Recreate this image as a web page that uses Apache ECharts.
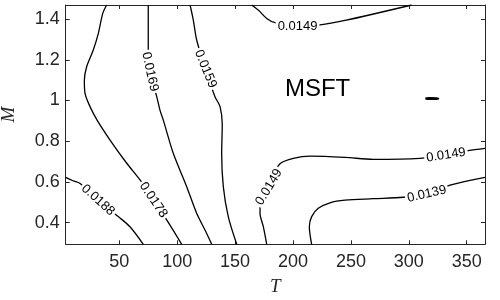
<!DOCTYPE html>
<html><head><meta charset="utf-8">
<script src="https://cdn.jsdelivr.net/npm/echarts@6/dist/echarts.min.js"></script>
<style>html,body{margin:0;padding:0;background:#fff}#c{width:500px;height:300px}</style>
</head><body><div id="c"></div>
<script>
// axis ranges and ticks
const xRange = [3.7, 365.8];
const yRange = [0.294, 1.469];
const xTicks = [50, 100, 150, 200, 250, 300, 350];
const yTicks = [0.4, 0.6, 0.8, 1, 1.2, 1.4];

// contour lines [T, M]
const c0188 = [[3.7,0.623],[10,0.606],[16.1,0.593],[31.6,0.511],[49.1,0.430],[59.2,0.380],[70.7,0.294]];
const c0178 = [[39.1,1.469],[35.7,1.428],[31.9,1.330],[27.5,1.248],[21.8,1.166],[19.8,1.100],[20.4,1.035],[24.7,0.970],[30.8,0.904],[42.0,0.806],[56.4,0.692],[67.9,0.610],[79.4,0.511],[90.9,0.414],[103.9,0.294]];
const c0169 = [[75.0,1.469],[75.0,1.264],[76.5,1.141],[82.3,1.019],[85.1,0.953],[88.0,0.904],[96.6,0.741],[108.2,0.577],[116.8,0.446],[124.0,0.364],[129.8,0.294]];
const c0159 = [[111.1,1.469],[113.9,1.395],[116.8,1.297],[124.4,1.155],[132.6,1.019],[137.0,0.970],[138.9,0.883],[138.4,0.741],[139.8,0.577],[144.1,0.430],[151.4,0.294]];
const c0149a = [[177.3,0.294],[174.4,0.380],[171.5,0.446],[171.8,0.490],[175.5,0.560],[181.5,0.625],[188.8,0.690],[200.3,0.716],[214.7,0.727],[244.9,0.721],[269.3,0.711],[309.7,0.716],[332.1,0.732],[351.4,0.754],[365.8,0.765]];
const c0149b = [[164.3,1.469],[170.0,1.444],[177.3,1.403],[184.5,1.382],[203.9,1.366],[223.3,1.371],[244.9,1.393],[302.5,1.469]];
const c0139 = [[216.1,0.294],[214.1,0.380],[216.1,0.430],[221.8,0.471],[231.9,0.498],[244.9,0.511],[269.3,0.518],[295.3,0.525],[315.5,0.541],[335.6,0.585],[365.8,0.623]];
const cBlob = [[314.3,1.0095],[317,1.012],[320,1.0125],[324,1.011],[325.5,1.0095],[322,1.007],[318,1.007],[314.3,1.0095]];

// contour labels
const labelText = ['0.0188','0.0178','0.0169','0.0159','0.0149','0.0149','0.0149','0.0139'];
const labelT = [31.6, 79.4, 76.5, 124.4, 179.3, 203.9, 332.1, 315.5];
const labelM = [0.511, 0.511, 1.141, 1.155, 0.575, 1.366, 0.732, 0.541];
const labelAngle = [-42, -56, -78, -68, 59, 0, 9, 13];

// annotation
const noteText = ['MSFT'];
const noteT = [221.2];
const noteM = [1.055];

const FONT = 'Liberation Sans, Arial, Helvetica, sans-serif';
const AX = '#262626';
const chart = echarts.init(document.getElementById('c'), null, {renderer: 'canvas'});

function lineSeries(data, smooth) {
  return {type: 'line', data: data, showSymbol: false, symbol: 'none', smooth: smooth,
    lineStyle: {color: '#000', width: 1.3}, xAxisIndex: 0, yAxisIndex: 0, z: 2, animation: false, silent: true};
}
const tickStyle = {inside: true, length: 4, lineStyle: {color: AX, width: 1}};

chart.setOption({
  animation: false,
  grid: {left: 65.7, right: 15, top: 5, bottom: 55.7, containLabel: false, outerBoundsMode: 'none'},
  xAxis: [
    {type: 'value', min: xRange[0], max: xRange[1], position: 'bottom',
     axisLine: {show: true, onZero: false, lineStyle: {color: AX, width: 1}},
     axisTick: Object.assign({customValues: xTicks}, tickStyle),
     axisLabel: {customValues: xTicks, fontSize: 18, color: AX, fontFamily: FONT, margin: 9},
     splitLine: {show: false},
     name: 'T', nameLocation: 'middle', nameGap: 33,
     nameTextStyle: {fontFamily: 'Liberation Serif, Times New Roman, serif', fontStyle: 'italic', fontSize: 19, color: AX}},
    {type: 'value', min: xRange[0], max: xRange[1], position: 'top',
     axisLine: {show: true, onZero: false, lineStyle: {color: AX, width: 1}},
     axisTick: Object.assign({customValues: xTicks}, tickStyle),
     axisLabel: {show: false}, splitLine: {show: false}}
  ],
  yAxis: [
    {type: 'value', min: yRange[0], max: yRange[1], position: 'left',
     axisLine: {show: true, onZero: false, lineStyle: {color: AX, width: 1}},
     axisTick: Object.assign({customValues: yTicks}, tickStyle),
     axisLabel: {customValues: yTicks, fontSize: 18, color: AX, fontFamily: FONT, margin: 6},
     splitLine: {show: false},
     name: 'M', nameLocation: 'middle', nameGap: 47, nameRotate: 90,
     nameTextStyle: {fontFamily: 'Liberation Serif, Times New Roman, serif', fontStyle: 'italic', fontSize: 19, color: AX, padding: [0, 0, 0, 20]}},
    {type: 'value', min: yRange[0], max: yRange[1], position: 'right',
     axisLine: {show: true, onZero: false, lineStyle: {color: AX, width: 1}},
     axisTick: Object.assign({customValues: yTicks}, tickStyle),
     axisLabel: {show: false}, splitLine: {show: false}}
  ],
  series: [
    lineSeries(c0188, 0.3),
    lineSeries(c0178, 0.3),
    lineSeries(c0169, 0.3),
    lineSeries(c0159, 0.3),
    lineSeries(c0149a, 0.3),
    lineSeries(c0149b, 0.3),
    lineSeries(c0139, 0.3),
    Object.assign(lineSeries(cBlob, 0.5), {lineStyle: {color: '#000', width: 2}}),
    {type: 'scatter', z: 5, silent: true, animation: false,
     symbol: 'circle', symbolSize: 1, itemStyle: {color: 'rgba(0,0,0,0)'},
     data: labelText.map((t, i) => ({name: t, value: [labelT[i], labelM[i]], label: {rotate: labelAngle[i]}})),
     label: {show: true, position: 'inside', formatter: '{b}', fontSize: 13, color: '#000', opacity: 1,
             textBorderWidth: 0, textBorderColor: 'transparent',
             fontFamily: FONT, backgroundColor: '#fff', padding: [0, 2]}},
    {type: 'scatter', z: 5, silent: true, animation: false,
     symbol: 'circle', symbolSize: 1, itemStyle: {color: 'rgba(0,0,0,0)'},
     data: noteText.map((t, i) => ({name: t, value: [noteT[i], noteM[i]]})),
     label: {show: true, position: 'inside', formatter: '{b}', fontSize: 24, color: '#000', opacity: 1,
             textBorderWidth: 0, textBorderColor: 'transparent', fontFamily: FONT}}
  ]
});
</script></body></html>
